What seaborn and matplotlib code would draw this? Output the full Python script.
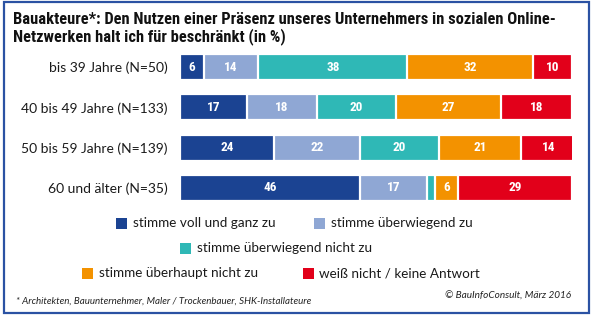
import matplotlib
matplotlib.use("Agg")
import matplotlib.pyplot as plt
from matplotlib import font_manager as fm
from matplotlib.patches import Rectangle
import numpy as np
import pandas as pd
import seaborn as sns

# --- data -------------------------------------------------------------
groups = ["bis 39 Jahre (N=50)", "40 bis 49 Jahre (N=133)",
          "50 bis 59 Jahre (N=139)", "60 und älter (N=35)"]
answers = ["stimme voll und ganz zu", "stimme überwiegend zu",
           "stimme überwiegend nicht zu", "stimme überhaupt nicht zu",
           "weiß nicht / keine Antwort"]
voll = [6, 17, 24, 46]
ueberwiegend = [14, 18, 22, 17]
ueberwiegend_nicht = [38, 20, 20, 2]
ueberhaupt_nicht = [32, 27, 21, 6]
weiss_nicht = [10, 18, 14, 29]
colors = ["#1b4392", "#8fa7d4", "#2fb8b6", "#f39200", "#e2001a"]

title_lines = ["Bauakteure*: Den Nutzen einer Präsenz unseres Unternehmers in sozialen Online-",
               "Netzwerken halt ich für beschränkt (in %)"]
footnote = "* Architekten, Bauunternehmer, Maler / Trockenbauer, SHK-Installateure"
source = "© BauInfoConsult, März 2016"

series = [voll, ueberwiegend, ueberwiegend_nicht, ueberhaupt_nicht, weiss_nicht]

# --- fonts ------------------------------------------------------------
sns.set_theme(style="white")
installed = {f.name for f in fm.fontManager.ttflist}
narrow = next((n for n in ["Liberation Sans Narrow", "DejaVu Sans Condensed",
                           "Roboto Condensed", "Open Sans Condensed"]
               if n in installed), "DejaVu Sans")
body = "Lato" if "Lato" in installed else "DejaVu Sans"
plt.rcParams["font.family"] = [body, "DejaVu Sans"]

W, H = 600, 322
fig = plt.figure(figsize=(W / 100, H / 100), dpi=100)
fig.patch.set_facecolor("white")


def fx(x):
    return x / W


def fy(y):
    return 1 - y / H


ax = fig.add_axes([fx(180), fy(208), fx(572) - fx(180), fy(47) - fy(208)])

# stacked bars: draw the running totals from the last answer backwards
vals = np.array(series, dtype=float)
cum = vals.cumsum(axis=0)
for i in range(len(answers) - 1, -1, -1):
    df = pd.DataFrame({"gruppe": groups, "summe": cum[i]})
    sns.barplot(data=df, x="summe", y="gruppe", order=groups, orient="h",
                color=colors[i], saturation=1, width=0.65,
                edgecolor="white", linewidth=1.6, ax=ax)

for i in range(len(answers)):
    for j in range(len(groups)):
        v = vals[i, j]
        if v > 2:
            ax.text(cum[i, j] - v / 2, j, f"{v:.0f}", ha="center", va="center",
                    color="white", fontsize=9.5, fontweight="bold",
                    family=[narrow, "DejaVu Sans"])

ax.set_xlim(0, 100)
ax.set_xlabel("")
ax.set_ylabel("")
ax.set_xticks([])
ax.tick_params(axis="y", length=0, pad=9, labelsize=10, labelcolor="#1a1a1a")
for s in ax.spines.values():
    s.set_visible(False)

# title
for k, (line, yy) in enumerate(zip(title_lines, [20, 37])):
    fig.text(fx(13), fy(yy), line, ha="left", va="center", fontsize=11.9,
             fontweight="bold", color="#111111", family=[narrow, "DejaVu Sans"])

# legend
legend_pos = [(116, 223, 133), (314, 223, 331), (180, 248, 197),
              (82, 273, 99), (303, 273, 319)]
sq = 11
for (sx, sy, tx), lab, c in zip(legend_pos, answers, colors):
    fig.patches.append(Rectangle((fx(sx), fy(sy + sq / 2)), sq / W, sq / H,
                                 transform=fig.transFigure, facecolor=c,
                                 edgecolor="none"))
    fig.text(fx(tx), fy(sy), lab, ha="left", va="center", fontsize=9.7,
             color="#1a1a1a")

fig.text(fx(16), fy(301), footnote, ha="left", va="center", fontsize=7,
         style="italic", color="#222222")
fig.text(fx(571), fy(296), source, ha="right", va="center", fontsize=7.2,
         style="italic", color="#222222")

# frame around the whole graphic
fig.patches.append(Rectangle((fx(4), fy(313)), (589 - 4) / W, (313 - 2) / H,
                             transform=fig.transFigure, facecolor="none",
                             edgecolor="#2b52a3", linewidth=1.6))

fig.savefig("out.png", dpi=100, facecolor="white")
